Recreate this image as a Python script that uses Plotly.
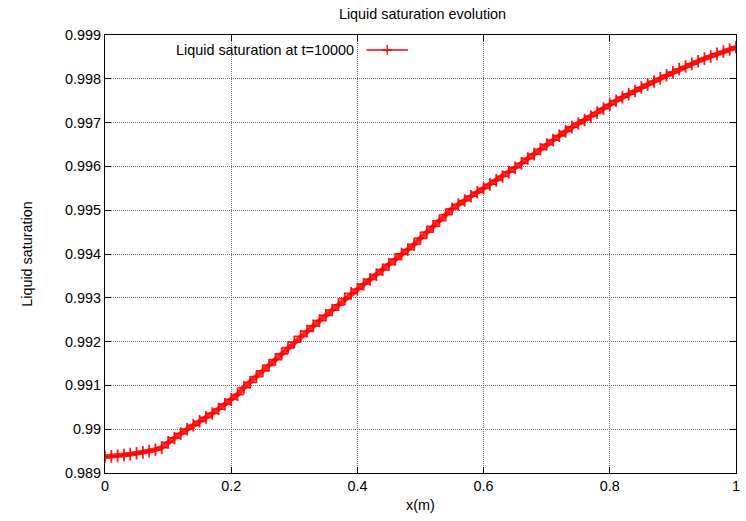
import plotly.graph_objects as go

# Liquid saturation profile along x at t=10000
x_m = [round(i * 0.01, 2) for i in range(101)]
saturation = [
    0.98937, 0.98938, 0.98939, 0.98941, 0.98943, 0.98945, 0.98947, 0.98950, 0.98953, 0.98958,
    0.98970, 0.98980, 0.98990, 0.99000, 0.99009, 0.99018, 0.99027, 0.99036, 0.99046, 0.99057,
    0.99068, 0.99079, 0.99095, 0.99107, 0.99120, 0.99133, 0.99146, 0.99159, 0.99172, 0.99186,
    0.99199, 0.99212, 0.99224, 0.99236, 0.99248, 0.99260, 0.99272, 0.99284, 0.99298, 0.99310,
    0.99320, 0.99331, 0.99342, 0.99353, 0.99364, 0.99376, 0.99388, 0.99400, 0.99410, 0.99422,
    0.99436, 0.99450, 0.99463, 0.99476, 0.99490, 0.99503, 0.99513, 0.99522, 0.99532, 0.99541,
    0.99550, 0.99559, 0.99568, 0.99577, 0.99587, 0.99597, 0.99607, 0.99618, 0.99628, 0.99639,
    0.99650, 0.99660, 0.99670, 0.99680, 0.99690, 0.99698, 0.99706, 0.99714, 0.99723, 0.99732,
    0.99741, 0.99750, 0.99758, 0.99765, 0.99772, 0.99780, 0.99787, 0.99794, 0.99801, 0.99808,
    0.99815, 0.99822, 0.99828, 0.99834, 0.99840, 0.99846, 0.99851, 0.99857, 0.99862, 0.99867,
    0.99872,
]

x_ticks = [0, 0.2, 0.4, 0.6, 0.8, 1]
x_tick_text = ["0", "0.2", "0.4", "0.6", "0.8", "1"]
y_ticks = [0.989, 0.990, 0.991, 0.992, 0.993, 0.994, 0.995, 0.996, 0.997, 0.998, 0.999]
y_tick_text = ["0.989", "0.99", "0.991", "0.992", "0.993", "0.994",
               "0.995", "0.996", "0.997", "0.998", "0.999"]

legend_label = "Liquid saturation at t=10000"
RED = "#ff0000"
FONT = "Liberation Sans, Arial, sans-serif"
FS = 14.4

# plot frame in pixels
L, R, T, B = 105, 740, 35, 473
W, H = 746, 521
PW, PH = R - L, B - T

fig = go.Figure()
fig.add_trace(go.Scatter(
    x=x_m, y=saturation, mode="lines+markers",
    line=dict(color="rgba(255,0,0,0.85)", width=5),
    marker=dict(symbol="cross-thin", size=9, line=dict(color="rgba(255,0,0,0.9)", width=1.8)),
    showlegend=False, hoverinfo="skip",
))

# legend key (gnuplot style: text on the left, sample on the right)
key_y = 1 - (50 - T) / PH
fig.add_trace(go.Scatter(
    x=[0.5], y=[0.5], xaxis="x2", yaxis="y2", mode="markers",
    marker=dict(symbol="cross-thin", size=7, line=dict(color=RED, width=1.3)),
    showlegend=False, hoverinfo="skip",
))

axis_common = dict(
    showline=True, linecolor="black", linewidth=1.2, mirror="allticks",
    ticks="inside", ticklen=6, tickcolor="black",
    showgrid=True, gridcolor="#777777", griddash="1px,1px", gridwidth=1,
    zeroline=False, tickfont=dict(family=FONT, size=FS, color="black"),
)

fig.update_layout(
    width=W, height=H,
    margin=dict(l=L, r=W - R, t=T, b=H - B),
    paper_bgcolor="white", plot_bgcolor="white",
    font=dict(family=FONT, size=FS, color="black"),
    title=dict(text="Liquid saturation evolution", x=(L + R) / 2 / W, xanchor="center",
               y=1 - 14 / H, yanchor="middle", font=dict(size=FS)),
    xaxis=dict(range=[0, 1], tickvals=x_ticks, ticktext=x_tick_text,
               title=dict(text="x(m)", font=dict(size=FS), standoff=6), **axis_common),
    yaxis=dict(range=[0.989, 0.999], tickvals=y_ticks, ticktext=y_tick_text,
               title=dict(text="Liquid saturation", font=dict(size=FS), standoff=28), **axis_common),
    xaxis2=dict(domain=[(368 - L) / PW, (410 - L) / PW], range=[0, 1], visible=False,
                anchor="y2"),
    yaxis2=dict(domain=[key_y - 0.02, key_y + 0.02], range=[0, 1],
                visible=False, anchor="x2"),
    shapes=[dict(type="line", xref="paper", yref="paper",
                 x0=(368 - L) / PW, x1=(410 - L) / PW, y0=key_y, y1=key_y,
                 line=dict(color=RED, width=1.3))],
    annotations=[dict(text=legend_label, xref="paper", yref="paper",
                      x=(358 - L) / PW, y=key_y,
                      xanchor="right", yanchor="middle", showarrow=False,
                      font=dict(family=FONT, size=FS, color="black"))],
)

fig.write_html("out.html")
